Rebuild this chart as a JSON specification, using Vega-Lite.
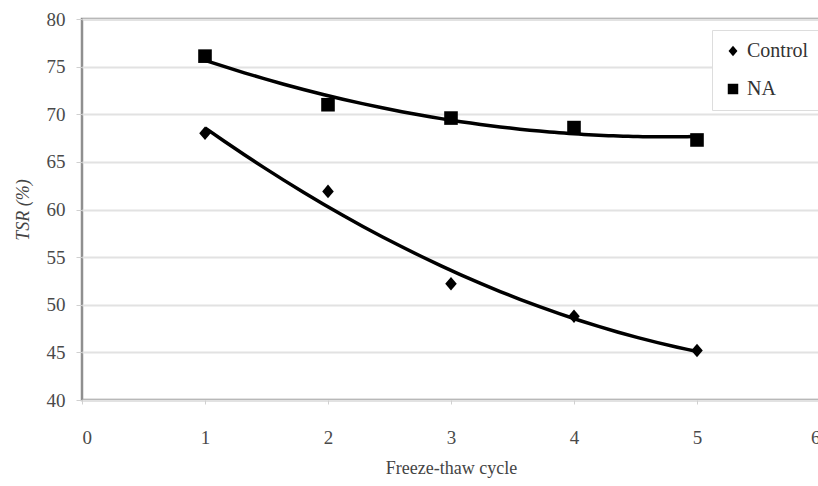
{
  "$schema": "https://vega.github.io/schema/vega-lite/v6.json",
  "width": 738,
  "height": 381,
  "autosize": {"type": "none"},
  "padding": {"left": 82, "top": 19, "right": 0, "bottom": 86},
  "background": "white",
  "config": {
    "font": "Liberation Serif",
    "view": {"stroke": "#8f8f8f", "strokeWidth": 2.5},
    "legend": {"labelFont": "Liberation Serif", "titleFont": "Liberation Serif"},
    "axis": {
      "domain": false,
      "labelFont": "Liberation Serif",
      "labelFontSize": 19,
      "labelColor": "#4a4a4a",
      "titleFont": "Liberation Serif",
      "titleFontSize": 18,
      "titleFontWeight": "normal",
      "titleColor": "#444444",
      "tickColor": "#d0d0d0",
      "tickSize": 6,
      "gridColor": "#e2e2e2",
      "gridWidth": 2
    }
  },
  "data": {
    "values": [
      {"cycle": 1, "tsr": 68.0, "group": "Control"},
      {"cycle": 2, "tsr": 61.9, "group": "Control"},
      {"cycle": 3, "tsr": 52.2, "group": "Control"},
      {"cycle": 4, "tsr": 48.8, "group": "Control"},
      {"cycle": 5, "tsr": 45.2, "group": "Control"},
      {"cycle": 1, "tsr": 76.1, "group": "NA"},
      {"cycle": 2, "tsr": 71.0, "group": "NA"},
      {"cycle": 3, "tsr": 69.6, "group": "NA"},
      {"cycle": 4, "tsr": 68.6, "group": "NA"},
      {"cycle": 5, "tsr": 67.3, "group": "NA"}
    ]
  },
  "layer": [
    {
      "transform": [
        {"regression": "tsr", "on": "cycle", "groupby": ["group"], "method": "poly", "order": 2, "extent": [1, 5]}
      ],
      "mark": {"type": "line", "color": "black", "strokeWidth": 3.5},
      "encoding": {
        "x": {"field": "cycle", "type": "quantitative"},
        "y": {"field": "tsr", "type": "quantitative"},
        "detail": {"field": "group"}
      }
    },
    {
      "mark": {"type": "point", "filled": true, "size": 185, "opacity": 1, "color": "black"},
      "encoding": {
        "x": {
          "field": "cycle",
          "type": "quantitative",
          "scale": {"domain": [0, 6], "nice": false},
          "axis": {"title": "Freeze-thaw cycle", "grid": false, "tickCount": 6, "labelPadding": 24, "titlePadding": 12, "tickSize": 4}
        },
        "y": {
          "field": "tsr",
          "type": "quantitative",
          "scale": {"domain": [40, 80], "nice": false, "zero": false},
          "axis": {"title": "TSR (%)", "titleFontStyle": "italic", "values": [40, 45, 50, 55, 60, 65, 70, 75, 80], "labelPadding": 11, "titlePadding": 14}
        },
        "shape": {
          "field": "group",
          "type": "nominal",
          "scale": {"domain": ["Control", "NA"], "range": ["M0,-1L0.85,0L0,1L-0.85,0Z", "square"]},
          "legend": {
            "title": null,
            "orient": "none",
            "legendX": 630,
            "legendY": 11,
            "strokeColor": "#dddddd",
            "fillColor": "white",
            "padding": 11,
            "rowPadding": 18,
            "symbolSize": 110,
            "symbolFillColor": "black",
            "symbolStrokeColor": "black",
            "labelFont": "Liberation Serif",
            "labelFontSize": 20,
            "labelColor": "#333333",
            "labelOffset": 4
          }
        }
      }
    }
  ]
}
